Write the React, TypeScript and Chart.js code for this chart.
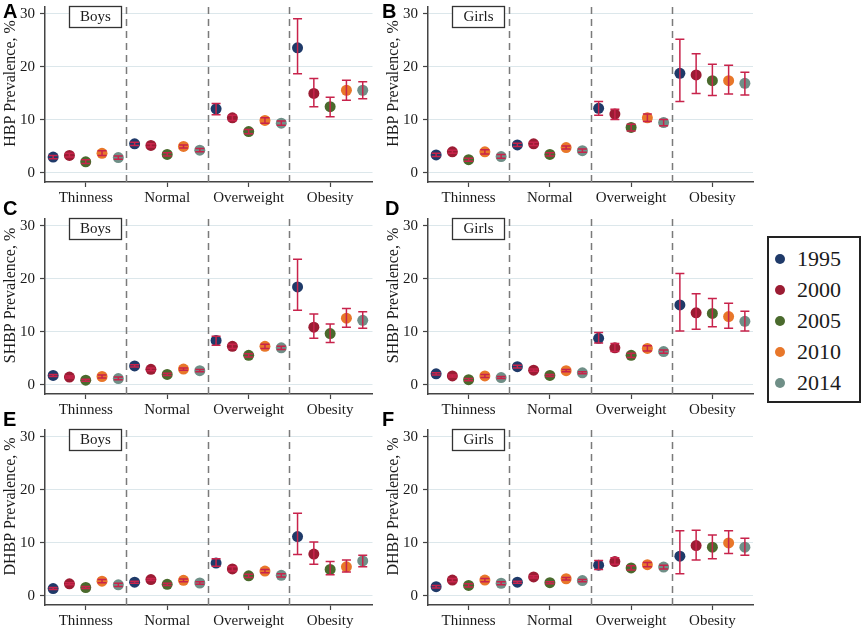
import React, { useEffect, useRef } from "react";
import { Chart, registerables } from "chart.js";
Chart.register(...registerables);

const CATEGORIES = ["Thinness", "Normal", "Overweight", "Obesity"];
const YEARS = ["1995", "2000", "2005", "2010", "2014"];
const YEAR_COLORS = ["#1f3a69", "#9b1c33", "#4a6a2d", "#e8772a", "#6f8f87"];
const X_OFFSETS = [-0.4, -0.2, 0, 0.2, 0.4];
const Y_TICKS = [0, 10, 20, 30];

// rows = years (1995..2014), columns = categories
const HBP_BOYS = [[3.0, 5.5, 12.1, 23.6], [3.3, 5.2, 10.4, 15.0], [2.1, 3.5, 7.8, 12.5], [3.7, 5.0, 9.9, 15.6], [2.9, 4.3, 9.4, 15.6]];
const HBP_BOYS_LO = [[2.7, 5.2, 11.0, 18.7], [3.0, 4.9, 9.9, 12.5], [1.8, 3.2, 7.4, 10.6], [3.3, 4.7, 9.4, 13.7], [2.6, 4.0, 9.0, 14.0]];
const HBP_BOYS_HI = [[3.3, 5.8, 13.1, 29.1], [3.7, 5.5, 10.9, 17.8], [2.5, 3.8, 8.2, 14.3], [4.2, 5.3, 10.4, 17.5], [3.2, 4.6, 9.8, 17.2]];

const HBP_GIRLS = [[3.4, 5.3, 12.2, 18.8], [4.0, 5.5, 11.1, 18.5], [2.5, 3.5, 8.6, 17.4], [4.0, 4.8, 10.4, 17.4], [3.1, 4.2, 9.5, 16.9]];
const HBP_GIRLS_LO = [[3.1, 5.0, 10.9, 13.5], [3.7, 5.2, 10.1, 15.0], [2.2, 3.2, 7.9, 14.6], [3.6, 4.5, 9.7, 14.9], [2.8, 3.9, 8.9, 14.7]];
const HBP_GIRLS_HI = [[3.7, 5.6, 13.5, 25.2], [4.3, 5.8, 12.0, 22.5], [2.8, 3.8, 9.2, 20.5], [4.4, 5.1, 11.1, 20.3], [3.5, 4.5, 10.1, 19.0]];

const SHBP_BOYS = [[1.8, 3.6, 8.4, 18.5], [1.5, 2.95, 7.3, 10.9], [0.9, 2.0, 5.6, 9.7], [1.6, 3.0, 7.3, 12.6], [1.2, 2.7, 7.0, 12.2]];
const SHBP_BOYS_LO = [[1.6, 3.4, 7.5, 14.1], [1.3, 2.7, 6.9, 8.8], [0.7, 1.8, 5.3, 8.0], [1.3, 2.8, 6.9, 10.9], [1.0, 2.5, 6.7, 10.7]];
const SHBP_BOYS_HI = [[2.0, 3.8, 9.2, 23.7], [1.7, 3.2, 7.7, 13.4], [1.1, 2.2, 5.9, 11.5], [1.9, 3.2, 7.7, 14.4], [1.5, 2.9, 7.3, 13.8]];

const SHBP_GIRLS = [[2.1, 3.45, 8.8, 15.1], [1.7, 2.8, 7.0, 13.6], [1.0, 1.8, 5.6, 13.5], [1.7, 2.7, 6.9, 12.9], [1.4, 2.3, 6.3, 12.0]];
const SHBP_GIRLS_LO = [[1.9, 3.2, 7.9, 10.2], [1.5, 2.6, 6.3, 10.5], [0.8, 1.6, 5.2, 11.0], [1.4, 2.5, 6.4, 10.7], [1.2, 2.1, 6.0, 10.2]];
const SHBP_GIRLS_HI = [[2.3, 3.7, 9.9, 21.0], [1.9, 3.0, 7.8, 17.2], [1.2, 2.0, 6.0, 16.3], [2.0, 2.9, 7.4, 15.4], [1.6, 2.5, 6.6, 13.9]];

const DHBP_BOYS = [[1.4, 2.6, 6.2, 11.2], [2.3, 3.1, 5.1, 7.9], [1.6, 2.2, 3.8, 5.0], [2.8, 2.95, 4.7, 5.5], [2.1, 2.45, 3.9, 6.6]];
const DHBP_BOYS_LO = [[1.2, 2.4, 5.6, 7.8], [2.1, 2.9, 4.7, 6.0], [1.4, 2.0, 3.5, 4.0], [2.5, 2.7, 4.4, 4.5], [1.8, 2.2, 3.6, 5.5]];
const DHBP_BOYS_HI = [[1.6, 2.8, 7.0, 15.6], [2.5, 3.3, 5.5, 10.2], [1.8, 2.4, 4.1, 6.5], [3.1, 3.2, 5.0, 6.8], [2.4, 2.7, 4.2, 7.7]];

const DHBP_GIRLS = [[1.75, 2.6, 5.8, 7.5], [3.0, 3.6, 6.5, 9.5], [2.0, 2.5, 5.3, 9.2], [3.0, 3.25, 5.9, 10.0], [2.4, 2.9, 5.45, 9.2]];
const DHBP_GIRLS_LO = [[1.5, 2.4, 5.0, 4.2], [2.7, 3.4, 6.0, 6.8], [1.7, 2.3, 4.9, 7.0], [2.7, 3.0, 5.5, 8.0], [2.1, 2.7, 5.1, 7.7]];
const DHBP_GIRLS_HI = [[2.0, 2.8, 6.7, 12.3], [3.3, 3.8, 7.2, 12.4], [2.3, 2.7, 5.7, 11.5], [3.3, 3.5, 6.3, 12.3], [2.7, 3.1, 5.8, 10.9]];

const SERIF = "'Liberation Serif', 'Times New Roman', serif";
const AXIS_COLOR = "#444";
const ERR_COLOR = "#c8234b";

type PanelProps = {
  col: number;
  row: number;
  letter: string;
  letterPos: [number, number];
  tag: string;
  title: string;
  vals: number[][];
  lo: number[][];
  hi: number[][];
};

const ROW_TOPS = [0, 212, 423];

function Panel(p: PanelProps) {
  const ref = useRef<HTMLCanvasElement | null>(null);
  useEffect(() => {
    if (!ref.current) return;
    const yAxisW = p.col === 0 ? 45 : 48;
    const padRight = p.col === 0 ? 7.5 : 7;
    const xMax = p.col === 0 ? 4.52 : 4.5;
    const datasets = YEARS.map((yr, i) => ({
      label: yr,
      data: CATEGORIES.map((_, j) => ({ x: j + 1 + X_OFFSETS[i], y: p.vals[i][j] })),
      backgroundColor: YEAR_COLORS[i],
      borderColor: YEAR_COLORS[i],
      pointRadius: 5.5,
      pointHoverRadius: 5.5,
      pointBorderWidth: 0,
      showLine: false,
    }));
    const decor = {
      id: "decor",
      beforeDatasetsDraw(chart: any) {
        const { ctx, chartArea, scales } = chart;
        ctx.save();
        ctx.strokeStyle = "#7a7a7a";
        ctx.lineWidth = 1.5;
        ctx.setLineDash([7, 5]);
        [1.5, 2.5, 3.5].forEach((v) => {
          const x = Math.round(scales.x.getPixelForValue(v)) + 0.5;
          ctx.beginPath();
          ctx.moveTo(x, chartArea.top);
          ctx.lineTo(x, chartArea.bottom);
          ctx.stroke();
        });
        ctx.restore();
      },
      afterDatasetsDraw(chart: any) {
        const { ctx, chartArea, scales } = chart;
        ctx.save();
        ctx.strokeStyle = ERR_COLOR;
        ctx.lineWidth = 1.5;
        YEARS.forEach((_, i) => {
          CATEGORIES.forEach((__, j) => {
            const x = scales.x.getPixelForValue(j + 1 + X_OFFSETS[i]);
            const y1 = scales.y.getPixelForValue(p.lo[i][j]);
            const y2 = scales.y.getPixelForValue(p.hi[i][j]);
            ctx.beginPath();
            ctx.moveTo(x, y1);
            ctx.lineTo(x, y2);
            ctx.moveTo(x - 4.5, y1);
            ctx.lineTo(x + 4.5, y1);
            ctx.moveTo(x - 4.5, y2);
            ctx.lineTo(x + 4.5, y2);
            ctx.stroke();
          });
        });
        // tag box
        const bx = chartArea.left + 24;
        const by = chartArea.top - 1;
        ctx.fillStyle = "#fff";
        ctx.fillRect(bx, by, 52, 21);
        ctx.strokeStyle = "#333";
        ctx.lineWidth = 1.3;
        ctx.strokeRect(bx + 0.5, by + 0.5, 52, 21);
        ctx.fillStyle = "#1a1a1a";
        ctx.font = `15px ${SERIF}`;
        ctx.textAlign = "center";
        ctx.textBaseline = "middle";
        ctx.fillText(p.tag, bx + 26.5, by + 11.5);
        // y title
        ctx.translate(chartArea.left - 34.5, (chartArea.top + chartArea.bottom) / 2 - 11);
        ctx.rotate(-Math.PI / 2);
        ctx.font = `16px ${SERIF}`;
        ctx.fillText(p.title, 0, 0);
        ctx.restore();
      },
    };
    const chart = new Chart(ref.current, {
      type: "scatter",
      data: { datasets },
      options: {
        responsive: false,
        animation: false,
        events: [],
        layout: { padding: { left: 0, right: padRight, top: 7, bottom: 0 } },
        plugins: { legend: { display: false }, tooltip: { enabled: false } },
        scales: {
          x: {
            type: "linear",
            min: 0.5,
            max: xMax,
            afterBuildTicks: (s: any) => {
              s.ticks = [1, 2, 3, 4].map((v) => ({ value: v }));
            },
            afterFit: (s: any) => {
              s.height = 26;
              s.paddingLeft = 0;
              s.paddingRight = 0;
            },
            ticks: {
              callback: (v: any) => CATEGORIES[Number(v) - 1] ?? "",
              font: { family: SERIF, size: 15 },
              color: "#1a1a1a",
              padding: 2,
              autoSkip: false,
              maxRotation: 0,
            },
            grid: { drawOnChartArea: false, drawTicks: true, tickLength: 5, tickColor: AXIS_COLOR, tickWidth: 1.2 },
            border: { display: true, color: AXIS_COLOR, width: 1.5 },
          },
          y: {
            type: "linear",
            min: -1.7,
            max: 31.3,
            afterBuildTicks: (s: any) => {
              s.ticks = Y_TICKS.map((v) => ({ value: v }));
            },
            afterFit: (s: any) => {
              s.width = yAxisW;
              s.paddingTop = 0;
              s.paddingBottom = 0;
            },
            ticks: { font: { family: SERIF, size: 15 }, color: "#1a1a1a", padding: 5 },
            grid: { color: "#dce7eb", lineWidth: 1, tickColor: AXIS_COLOR, tickLength: 5, tickWidth: 1.2 },
            border: { display: true, color: AXIS_COLOR, width: 1.5 },
          },
        },
      } as any,
      plugins: [decor],
    });
    return () => chart.destroy();
  }, []);
  const left = p.col * 380;
  const top = ROW_TOPS[p.row];
  return (
    <>
      <canvas
        ref={ref}
        width={380}
        height={208}
        style={{ position: "absolute", left, top, width: 380, height: 208 }}
      />
      <div
        style={{
          position: "absolute",
          left: p.letterPos[0],
          top: p.letterPos[1],
          font: `bold 20px 'Liberation Sans', Arial, sans-serif`,
          lineHeight: "20px",
          color: "#000",
        }}
      >
        {p.letter}
      </div>
    </>
  );
}

function Legend() {
  return (
    <div
      style={{
        position: "absolute",
        left: 767,
        top: 236,
        width: 90,
        height: 163,
        border: "2px solid #222",
        background: "#fff",
      }}
    >
      {YEARS.map((yr, i) => (
        <div key={yr} style={{ position: "absolute", left: 0, top: 9 + i * 31, height: 24, width: 90 }}>
          <div
            style={{
              position: "absolute",
              left: 6,
              top: 7,
              width: 10,
              height: 10,
              borderRadius: 5,
              background: YEAR_COLORS[i],
            }}
          />
          <div
            style={{
              position: "absolute",
              left: 28,
              top: 0,
              font: `22px ${SERIF}`,
              lineHeight: "24px",
              color: "#1a1a1a",
            }}
          >
            {yr}
          </div>
        </div>
      ))}
    </div>
  );
}

export default function App() {
  return (
    <div style={{ position: "fixed", left: 0, top: 0, width: 866, height: 631, background: "#fff", overflow: "hidden" }}>
      <Panel col={0} row={0} letter="A" letterPos={[3, 1]} tag="Boys" title="HBP Prevalence, %" vals={HBP_BOYS} lo={HBP_BOYS_LO} hi={HBP_BOYS_HI} />
      <Panel col={1} row={0} letter="B" letterPos={[382, 1]} tag="Girls" title="HBP Prevalence, %" vals={HBP_GIRLS} lo={HBP_GIRLS_LO} hi={HBP_GIRLS_HI} />
      <Panel col={0} row={1} letter="C" letterPos={[3, 198]} tag="Boys" title="SHBP Prevalence, %" vals={SHBP_BOYS} lo={SHBP_BOYS_LO} hi={SHBP_BOYS_HI} />
      <Panel col={1} row={1} letter="D" letterPos={[385, 198]} tag="Girls" title="SHBP Prevalence, %" vals={SHBP_GIRLS} lo={SHBP_GIRLS_LO} hi={SHBP_GIRLS_HI} />
      <Panel col={0} row={2} letter="E" letterPos={[3, 409]} tag="Boys" title="DHBP Prevalence, %" vals={DHBP_BOYS} lo={DHBP_BOYS_LO} hi={DHBP_BOYS_HI} />
      <Panel col={1} row={2} letter="F" letterPos={[382, 409]} tag="Girls" title="DHBP Prevalence, %" vals={DHBP_GIRLS} lo={DHBP_GIRLS_LO} hi={DHBP_GIRLS_HI} />
      <Legend />
    </div>
  );
}
